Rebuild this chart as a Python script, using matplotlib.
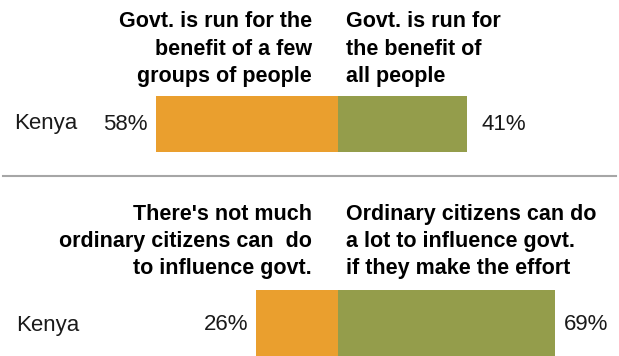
import matplotlib
matplotlib.use('Agg')
import matplotlib.pyplot as plt

# Survey results, Kenya
countries = ['Kenya', 'Kenya']
few_groups = [58]        # govt. run for a few groups
all_people = [41]        # govt. run for all people
not_much = [26]          # not much citizens can do
can_do_lot = [69]        # citizens can do a lot

top_left_header = ['Govt. is run for the', 'benefit of a few', 'groups of people']
top_right_header = ['Govt. is run for', 'the benefit of', 'all people']
bottom_left_header = ["There's not much", 'ordinary citizens can  do', 'to influence govt.']
bottom_right_header = ['Ordinary citizens can do', 'a lot to influence govt.', 'if they make the effort']

ORANGE = '#EA9F2E'
GREEN = '#949D4B'
PX_PER_PCT = 3.14
DIVIDER_PX = 338
W, H = 619, 356

fig = plt.figure(figsize=(W / 100, H / 100), dpi=100)
ax = fig.add_axes([0, 0, 1, 1])
ax.set_xlim(-DIVIDER_PX / PX_PER_PCT, (W - DIVIDER_PX) / PX_PER_PCT)
ax.set_ylim(H, 0)
ax.axis('off')

reg = dict(family=['Liberation Sans', 'DejaVu Sans'], fontsize=16, color='#1a1a1a')
bold = dict(family=['Liberation Sans', 'DejaVu Sans'], fontsize=15.5, fontweight='bold', color='black')


def draw_panel(y_bar, bar_h, left_vals, right_vals, label, label_x, right_gap, left_hdr, right_hdr, baselines):
    ax.barh([y_bar], [-v for v in left_vals], height=bar_h, color=ORANGE, linewidth=0)
    ax.barh([y_bar], right_vals, height=bar_h, color=GREEN, linewidth=0)
    y_lab = y_bar if bar_h < 60 else 325
    ax.text(label_x / W, y_lab, label, transform=ax.get_yaxis_transform(),
            ha='left', va='center', **reg)
    ax.annotate(f'{left_vals[0]}%', xy=(-left_vals[0], y_lab), xytext=(-8, 0),
                textcoords='offset pixels', ha='right', va='center', **reg)
    ax.annotate(f'{right_vals[0]}%', xy=(right_vals[0], y_lab), xytext=(right_gap, 0),
                textcoords='offset pixels', ha='left', va='center', **reg)
    for line, yb in zip(left_hdr, baselines):
        ax.annotate(line, xy=(0, yb), xytext=(-26, 0), textcoords='offset pixels',
                    ha='right', va='baseline', **bold)
    for line, yb in zip(right_hdr, baselines):
        ax.annotate(line, xy=(0, yb), xytext=(8, 0), textcoords='offset pixels',
                    ha='left', va='baseline', **bold)


# top panel
draw_panel(124, 56, few_groups, all_people, countries[0], 14, 15,
           top_left_header, top_right_header, [27, 55, 82])

# separator
ax.axhline(176, xmin=3 / W, xmax=616 / W, color='#A6A6A6', linewidth=1.5)

# bottom panel, bar runs off the bottom edge
draw_panel(328, 76, not_much, can_do_lot, countries[1], 16, 9,
           bottom_left_header, bottom_right_header, [220, 247, 274])

fig.savefig('out.png', dpi=100)
plt.close(fig)
